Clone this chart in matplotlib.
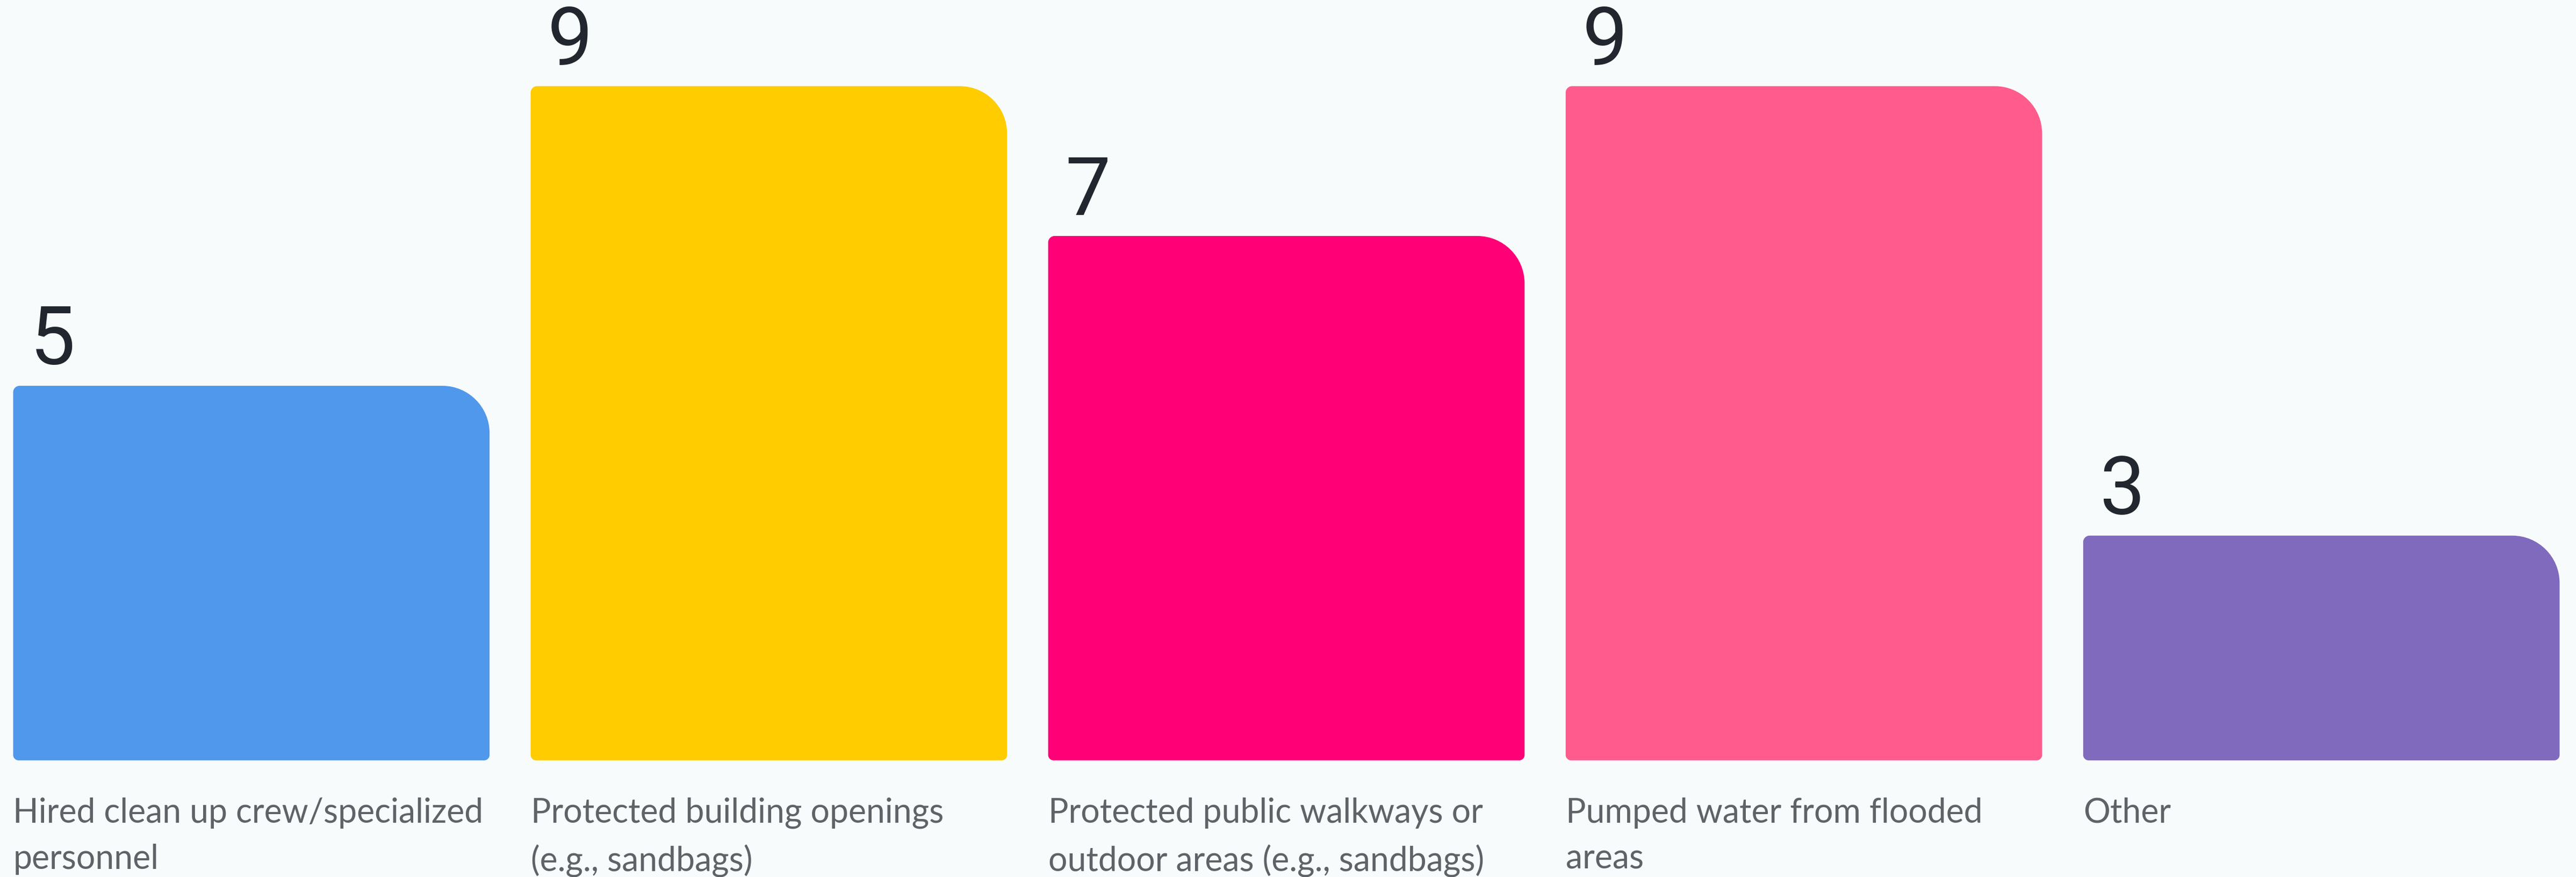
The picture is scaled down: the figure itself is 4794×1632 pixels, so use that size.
import matplotlib
matplotlib.use("Agg")
import matplotlib.pyplot as plt
from matplotlib.path import Path
from matplotlib.patches import PathPatch

categories = [
    "Hired clean up crew/specialized\npersonnel",
    "Protected building openings\n(e.g., sandbags)",
    "Protected public walkways or\noutdoor areas (e.g., sandbags)",
    "Pumped water from flooded\nareas",
    "Other",
]
values = [5, 9, 7, 9, 3]
colors = ["#4F98EB", "#FFCC00", "#FF0077", "#FF5C8D", "#7F6ABD"]

BG = "#F8FBFC"
VALUE_COLOR = "#22262E"
LABEL_COLOR = "#5F6368"

DPI = 300
fig = plt.figure(figsize=(4794 / DPI, 1632 / DPI), dpi=DPI, facecolor=BG)
ax = fig.add_axes([0, 0.133, 1, 0.867])
ax.set_facecolor(BG)

bar_width = 0.9206
positions = list(range(len(values)))
bars = ax.bar(positions, values, width=bar_width, color=colors)
ax.set_xlim(-0.4857, 4.492)
ax.set_ylim(0, 10.15)
ax.axis("off")

# Pixel size of one data unit, used to keep corner radii circular on screen
fig.canvas.draw()
(x0, y0), (x1, y1) = ax.transData.transform([(0, 0), (1, 1)])
px_x, px_y = x1 - x0, y1 - y0

K = 0.5523


def rounded_bar(x, y, w, h, r_tl, r_tr, r_br, r_bl):
    """Bar outline with independent corner radii given in pixels."""
    def rx(r):
        return r / px_x

    def ry(r):
        return r / px_y

    verts, codes = [], []
    verts.append((x, y + ry(r_bl))); codes.append(Path.MOVETO)
    verts.append((x, y + h - ry(r_tl))); codes.append(Path.LINETO)
    verts += [(x, y + h - ry(r_tl) * (1 - K)), (x + rx(r_tl) * (1 - K), y + h), (x + rx(r_tl), y + h)]
    codes += [Path.CURVE4] * 3
    verts.append((x + w - rx(r_tr), y + h)); codes.append(Path.LINETO)
    verts += [(x + w - rx(r_tr) * (1 - K), y + h), (x + w, y + h - ry(r_tr) * (1 - K)), (x + w, y + h - ry(r_tr))]
    codes += [Path.CURVE4] * 3
    verts.append((x + w, y + ry(r_br))); codes.append(Path.LINETO)
    verts += [(x + w, y + ry(r_br) * (1 - K)), (x + w - rx(r_br) * (1 - K), y), (x + w - rx(r_br), y)]
    codes += [Path.CURVE4] * 3
    verts.append((x + rx(r_bl), y)); codes.append(Path.LINETO)
    verts += [(x + rx(r_bl) * (1 - K), y), (x, y + ry(r_bl) * (1 - K)), (x, y + ry(r_bl))]
    codes += [Path.CURVE4] * 3
    verts.append((x, y + ry(r_bl))); codes.append(Path.CLOSEPOLY)
    return Path(verts, codes)


for rect, val, col, label in zip(bars.patches, values, colors, categories):
    bx, by = rect.get_x(), rect.get_y()
    bw, bh = rect.get_width(), rect.get_height()
    rect.set_visible(False)
    path = rounded_bar(bx, by, bw, bh, 12, 88, 10, 10)
    ax.add_patch(PathPatch(path, facecolor=col, edgecolor="none"))

    ax.annotate(str(val), xy=(bx, by + bh), xytext=(7.5, 9.5),
                textcoords="offset points", ha="left", va="baseline",
                fontsize=36, color=VALUE_COLOR, family="Roboto",
                fontweight="normal", annotation_clip=False)

    ax.annotate(label, xy=(bx, 0), xycoords=("data", "axes fraction"),
                xytext=(0, -16.5), textcoords="offset points",
                ha="left", va="top", fontsize=15, color=LABEL_COLOR,
                family="Lato", linespacing=1.6, annotation_clip=False)

fig.savefig("out.png", dpi=DPI, facecolor=BG)
